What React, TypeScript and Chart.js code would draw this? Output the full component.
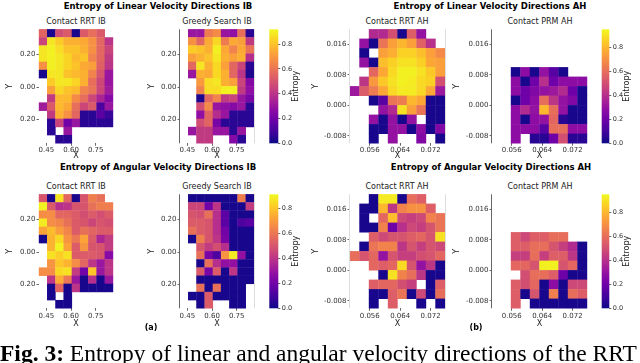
import React, { useEffect, useRef } from 'react';
import { Chart, registerables } from 'chart.js';

Chart.register(...registerables);
Chart.defaults.font.family = "'DejaVu Sans', sans-serif";

const _ = null;

// ---------- axes (data units) ----------
// IB panels: 14 rows x 9 columns (rows listed top to bottom)
const IB_X_START = 0.405;
const IB_X_STEP = 0.05;
const IB_Y_START = 0.355;
const IB_Y_STEP = 0.05;
const ibXTicks = [0.45, 0.6, 0.75];
const ibXLabels = ['0.45', '0.60', '0.75'];
const ibYTicks = [0.2, 0.0, -0.2];
const ibYLabels = ['0.20', '0.00', '0.20'];

// AH panels: 12 rows x 10 columns
const AH_X_START = 0.0508;
const AH_X_STEP = 0.0025;
const AH_Y_START = 0.02;
const AH_Y_STEP = 0.0025;
const ahXTicks = [0.056, 0.064, 0.072];
const ahXLabels = ['0.056', '0.064', '0.072'];
const ahYTicks = [0.016, 0.008, 0.0, -0.008];
const ahYLabels = ['0.016', '0.008', '0.000', '-0.008'];

const entropyTicks = [0, 0.2, 0.4, 0.6, 0.8];
const entropyLabels = ['0.0', '0.2', '0.4', '0.6', '0.8'];
const linearIBMax = 0.92;
const angularIBMax = 0.91;
const linearAHMax = 0.95;
const angularAHMax = 0.95;

// ---------- entropy grids ----------
const linearIB_ContactRRT: (number | null)[][] = [
  [0.55, 0.02, 0.48, 0.52, 0.02, 0.52, 0.58, 0.52, _],
  [0.45, 0.88, 0.82, 0.76, 0.76, 0.74, 0.68, 0.56, 0.4],
  [0.88, 0.9, 0.86, 0.8, 0.8, 0.76, 0.68, 0.56, 0.45],
  [0.88, 0.9, 0.88, 0.84, 0.78, 0.8, 0.64, 0.56, 0.42],
  [0.68, 0.9, 0.88, 0.84, 0.8, 0.74, 0.72, 0.54, 0.4],
  [0.02, 0.88, 0.88, 0.8, 0.78, 0.76, 0.64, 0.5, 0.3],
  [_, 0.82, 0.88, 0.88, 0.84, 0.76, 0.58, 0.46, 0.3],
  [_, 0.72, 0.85, 0.8, 0.78, 0.64, 0.6, 0.46, 0.32],
  [_, 0.42, 0.78, 0.78, 0.66, 0.58, 0.46, 0.35, 0.25],
  [0.32, 0.52, 0.78, 0.74, 0.58, 0.46, 0.52, 0.12, 0.3],
  [_, 0.42, 0.76, 0.68, 0.56, 0.05, 0.05, 0.15, 0.08],
  [_, 0.05, 0.45, 0.2, 0.3, 0.05, 0.05, 0.05, 0.05],
  [_, 0.05, _, 0.3, _, _, _, _, _],
  [_, _, 0.05, 0.05, _, _, _, _, _],
];

const linearIB_GreedySearch: (number | null)[][] = [
  [_, 0.3, 0.3, 0.62, 0.66, 0.3, 0.28, 0.58, 0.05],
  [_, 0.68, 0.56, 0.74, 0.85, 0.62, 0.74, 0.72, 0.42],
  [_, 0.82, 0.8, 0.76, 0.9, 0.74, 0.64, 0.74, 0.6],
  [_, 0.72, 0.76, 0.8, 0.88, 0.76, 0.72, 0.76, 0.38],
  [_, 0.56, 0.88, 0.76, 0.85, 0.72, 0.56, 0.45, 0.05],
  [_, 0.3, 0.76, 0.74, 0.85, 0.76, 0.56, 0.4, 0.03],
  [_, _, 0.7, 0.86, 0.88, 0.76, 0.72, 0.45, 0.25],
  [_, _, 0.64, 0.86, 0.86, 0.9, 0.9, 0.42, 0.28],
  [_, _, 0.03, 0.56, 0.64, 0.42, 0.45, 0.3, 0.22],
  [_, _, 0.48, 0.66, 0.3, 0.28, 0.25, 0.3, 0.05],
  [_, _, 0.28, 0.55, 0.38, 0.3, 0.05, 0.05, 0.05],
  [_, _, 0.48, 0.55, 0.22, 0.05, 0.05, 0.05, 0.05],
  [_, 0.3, 0.42, 0.42, 0.3, 0.3, 0.05, 0.3, _],
  [_, _, 0.42, 0.42, _, _, 0.25, 0.05, _],
];

const angularIB_ContactRRT: (number | null)[][] = [
  [0.5, 0.02, 0.86, 0.55, 0.02, 0.5, 0.62, 0.58, _],
  [0.9, 0.52, 0.38, 0.4, 0.5, 0.5, 0.58, 0.62, 0.62],
  [0.66, 0.66, 0.55, 0.55, 0.52, 0.48, 0.52, 0.48, 0.52],
  [0.88, 0.66, 0.64, 0.58, 0.52, 0.5, 0.45, 0.5, 0.48],
  [0.72, 0.78, 0.7, 0.64, 0.52, 0.58, 0.55, 0.52, 0.52],
  [0.02, 0.76, 0.84, 0.68, 0.6, 0.72, 0.52, 0.35, 0.42],
  [_, 0.76, 0.9, 0.72, 0.52, 0.68, 0.5, 0.5, 0.42],
  [_, 0.86, 0.82, 0.86, 0.52, 0.52, 0.52, 0.5, 0.25],
  [_, 0.68, 0.8, 0.76, 0.66, 0.55, 0.4, 0.3, 0.4],
  [0.66, 0.66, 0.84, 0.86, 0.42, 0.2, 0.8, 0.3, 0.4],
  [_, 0.4, 0.74, 0.6, 0.3, 0.02, 0.38, 0.02, 0.3],
  [_, 0.02, 0.55, 0.02, 0.4, 0.02, 0.02, 0.02, 0.02],
  [_, 0.02, _, 0.02, _, _, _, _, _],
  [_, _, 0.02, 0.02, _, _, _, _, _],
];

const angularIB_GreedySearch: (number | null)[][] = [
  [_, 0.02, 0.02, 0.02, 0.02, 0.02, 0.02, 0.62, 0.02],
  [_, 0.45, 0.45, 0.2, 0.4, 0.02, 0.02, 0.02, 0.42],
  [_, 0.5, 0.48, 0.58, 0.38, 0.15, 0.02, 0.02, 0.02],
  [_, 0.52, 0.52, 0.5, 0.38, 0.15, 0.02, 0.12, 0.15],
  [_, 0.58, 0.52, 0.5, 0.38, 0.2, 0.02, 0.02, 0.02],
  [_, 0.02, 0.62, 0.5, 0.4, 0.22, 0.02, 0.02, 0.02],
  [_, _, 0.5, 0.42, 0.48, 0.38, 0.02, 0.02, 0.02],
  [_, _, 0.58, 0.22, 0.12, 0.68, 0.88, 0.28, 0.02],
  [_, _, 0.02, 0.58, 0.38, 0.28, 0.28, 0.02, 0.02],
  [_, _, 0.52, 0.22, 0.52, 0.02, 0.4, 0.02, 0.02],
  [_, _, 0.02, 0.02, 0.02, 0.02, 0.02, 0.02, 0.02],
  [_, _, 0.58, 0.02, 0.58, 0.02, 0.02, 0.02, _],
  [_, 0.02, 0.02, 0.52, 0.02, 0.02, 0.02, 0.02, _],
  [_, _, 0.02, 0.52, _, _, 0.02, 0.02, _],
];

const linearAH_ContactRRT: (number | null)[][] = [
  [_, _, 0.38, 0.38, 0.5, 0.02, 0.55, 0.3, _, _],
  [_, 0.3, 0.02, 0.62, 0.74, 0.8, 0.74, 0.56, 0.4, _],
  [_, 0.02, _, 0.74, 0.78, 0.86, 0.86, 0.82, 0.74, 0.68],
  [_, 0.3, 0.02, 0.82, 0.86, 0.9, 0.9, 0.86, 0.76, 0.74],
  [_, _, 0.58, 0.76, 0.88, 0.93, 0.93, 0.9, 0.84, 0.74],
  [_, 0.42, 0.72, 0.84, 0.9, 0.93, 0.92, 0.88, 0.86, 0.5],
  [0.32, 0.54, 0.64, 0.76, 0.88, 0.92, 0.92, 0.88, 0.76, 0.32],
  [_, _, 0.02, 0.15, 0.62, 0.64, 0.8, 0.76, 0.02, 0.02],
  [_, _, _, 0.3, 0.38, 0.9, 0.74, 0.62, 0.02, 0.02],
  [_, _, 0.3, 0.02, 0.3, 0.02, 0.3, _, 0.02, 0.02],
  [_, _, 0.02, 0.02, 0.3, 0.3, 0.02, 0.28, 0.02, 0.25],
  [_, _, 0.02, _, 0.3, _, _, 0.25, _, 0.02],
];

const linearAH_ContactPRM: (number | null)[][] = [
  [_, _, _, _, _, _, _, _, _, _],
  [_, _, _, _, _, _, _, _, _, _],
  [_, _, _, _, _, _, _, _, _, _],
  [_, _, _, _, _, _, _, _, _, _],
  [_, _, 0.02, 0.28, 0.02, 0.3, 0.15, 0.02, _, _],
  [_, _, 0.28, 0.02, 0.2, 0.4, 0.2, 0.28, 0.28, 0.28],
  [_, _, 0.28, 0.2, 0.25, 0.3, 0.32, 0.38, 0.2, 0.02],
  [_, _, 0.02, 0.2, 0.28, 0.6, 0.42, 0.3, 0.25, 0.02],
  [_, _, 0.28, 0.38, 0.3, 0.8, 0.6, 0.3, 0.02, 0.02],
  [_, _, 0.28, 0.02, 0.28, 0.3, 0.58, 0.05, 0.02, 0.02],
  [_, _, 0.28, 0.28, 0.28, 0.15, 0.6, 0.6, 0.28, 0.28],
  [_, _, 0.28, _, 0.05, 0.05, 0.2, 0.5, 0.05, 0.05],
];

const angularAH_ContactRRT: (number | null)[][] = [
  [_, _, 0.02, 0.92, 0.92, 0.02, 0.6, 0.55, _, _],
  [_, 0.02, 0.02, 0.8, 0.42, 0.66, 0.7, 0.7, 0.55, _],
  [_, 0.02, _, 0.58, 0.82, 0.48, 0.45, 0.48, 0.66, 0.62],
  [_, 0.02, 0.02, 0.66, 0.2, 0.4, 0.48, 0.45, 0.52, 0.62],
  [_, _, 0.55, 0.48, 0.52, 0.52, 0.55, 0.58, 0.52, 0.9],
  [_, 0.02, 0.62, 0.66, 0.66, 0.42, 0.52, 0.45, 0.52, 0.48],
  [0.6, 0.52, 0.58, 0.3, 0.52, 0.45, 0.45, 0.5, 0.52, 0.58],
  [_, _, 0.58, 0.55, 0.58, 0.88, 0.52, 0.3, 0.42, 0.02],
  [_, _, _, 0.02, 0.9, 0.66, 0.6, 0.42, 0.02, 0.02],
  [_, _, 0.55, 0.58, 0.58, 0.5, 0.45, _, 0.02, 0.55],
  [_, _, 0.02, 0.02, 0.55, 0.62, 0.02, 0.48, 0.02, 0.6],
  [_, _, 0.02, _, 0.55, _, _, 0.02, _, 0.02],
];

const angularAH_ContactPRM: (number | null)[][] = [
  [_, _, _, _, _, _, _, _, _, _],
  [_, _, _, _, _, _, _, _, _, _],
  [_, _, _, _, _, _, _, _, _, _],
  [_, _, _, _, _, _, _, _, _, _],
  [_, _, 0.55, 0.48, 0.55, 0.55, 0.6, 0.6, _, _],
  [_, _, 0.55, 0.55, 0.6, 0.6, 0.52, 0.45, 0.38, 0.02],
  [_, _, 0.45, 0.45, 0.6, 0.45, 0.55, 0.55, 0.42, 0.02],
  [_, _, 0.58, 0.58, 0.52, 0.93, 0.93, 0.52, 0.58, 0.02],
  [_, _, _, 0.5, 0.6, 0.6, 0.55, 0.2, 0.02, 0.02],
  [_, _, 0.55, 0.5, 0.58, 0.02, 0.28, 0.02, 0.48, 0.48],
  [_, _, 0.55, 0.02, 0.52, 0.02, 0.65, 0.02, 0.6, 0.55],
  [_, _, 0.55, _, 0.02, 0.02, 0.02, 0.02, 0.02, 0.02],
];

// ---------- colormap (plasma) ----------
const plasmaStops = [
  '#0d0887', '#41049d', '#6a00a8', '#8f0da4', '#b12a90', '#cc4778',
  '#e16462', '#f2844b', '#fca636', '#fcce25', '#f0f921',
];
function hexRgb(h: string) {
  return [parseInt(h.slice(1, 3), 16), parseInt(h.slice(3, 5), 16), parseInt(h.slice(5, 7), 16)];
}
function plasma(t: number) {
  const c = Math.max(0, Math.min(1, t));
  const f = c * (plasmaStops.length - 1);
  const i = Math.min(Math.floor(f), plasmaStops.length - 2);
  const u = f - i;
  const a = hexRgb(plasmaStops[i]);
  const b = hexRgb(plasmaStops[i + 1]);
  return `rgb(${Math.round(a[0] + (b[0] - a[0]) * u)},${Math.round(a[1] + (b[1] - a[1]) * u)},${Math.round(a[2] + (b[2] - a[2]) * u)})`;
}

type Geo = {
  areaLeft: number; areaTop: number; areaW: number; areaH: number;
  yTitleX: number; xTitleY: number; xTickPad: number; yTickPad: number; tickLen: number;
  spineL?: string; spineR?: string;
};

type HeatProps = {
  grid: (number | null)[][];
  xStart: number; xStep: number; yStart: number; yStep: number;
  xTicks: number[]; xLabels: string[]; yTicks: number[]; yLabels: string[];
  vmax: number; geo: Geo;
};

function Heat(p: HeatProps) {
  const ref = useRef<HTMLCanvasElement>(null);
  const g = p.geo;
  const left = Math.floor(g.yTitleX - 6);
  const top = Math.floor(g.areaTop - 6);
  const right = Math.ceil(g.areaLeft + g.areaW + 6);
  const bottom = Math.ceil(g.xTitleY + 6);
  const W = right - left;
  const H = bottom - top;
  useEffect(() => {
    const nRows = p.grid.length;
    const nCols = p.grid[0].length;
    const pts: { x: number; y: number; v: number }[] = [];
    p.grid.forEach((row, r) =>
      row.forEach((v, c) => {
        if (v !== null) pts.push({ x: p.xStart + (c + 0.5) * p.xStep, y: p.yStart - (r + 0.5) * p.yStep, v });
      })
    );
    const cellPlugin = {
      id: 'heatCells',
      beforeDatasetsDraw(chart: any) {
        const { ctx, chartArea: a, scales } = chart;
        const xs = scales.x;
        const ys = scales.y;
        ctx.save();
        for (const d of chart.data.datasets[0].data as any[]) {
          const l = xs.getPixelForValue(d.x - p.xStep / 2);
          const rr = xs.getPixelForValue(d.x + p.xStep / 2);
          const t = ys.getPixelForValue(d.y + p.yStep / 2);
          const b = ys.getPixelForValue(d.y - p.yStep / 2);
          ctx.fillStyle = plasma(d.v / p.vmax);
          ctx.fillRect(l - 0.2, t - 0.2, rr - l + 0.4, b - t + 0.4);
        }
        ctx.lineWidth = 1;
        if (g.spineL) {
          ctx.strokeStyle = g.spineL;
          ctx.beginPath();
          ctx.moveTo(Math.round(a.left) - 0.5, a.top);
          ctx.lineTo(Math.round(a.left) - 0.5, a.bottom);
          ctx.stroke();
        }
        if (g.spineR) {
          ctx.strokeStyle = g.spineR;
          ctx.beginPath();
          ctx.moveTo(Math.round(a.right) + 0.5, a.top);
          ctx.lineTo(Math.round(a.right) + 0.5, a.bottom);
          ctx.stroke();
        }
        ctx.restore();
      },
    };
    const chart = new Chart(ref.current as HTMLCanvasElement, {
      type: 'scatter',
      data: { datasets: [{ data: pts as any, pointRadius: 0, pointHoverRadius: 0 }] },
      options: {
        responsive: false,
        animation: false,
        events: [],
        layout: {
          padding: { left: 0, top: g.areaTop - top, right: right - (g.areaLeft + g.areaW), bottom: 0 },
        },
        plugins: { legend: { display: false }, tooltip: { enabled: false } },
        scales: {
          x: {
            type: 'linear',
            position: 'bottom',
            bounds: 'data',
            min: p.xStart,
            max: p.xStart + nCols * p.xStep,
            afterBuildTicks: (s: any) => {
              s.ticks = p.xTicks.map((value) => ({ value }));
            },
            afterFit: (s: any) => {
              s.height = bottom - (g.areaTop + g.areaH);
            },
            ticks: {
              autoSkip: false,
              maxRotation: 0,
              padding: g.xTickPad,
              color: '#333',
              font: { size: 7, lineHeight: 1 },
              callback: (_v: any, i: number) => p.xLabels[i],
            },
            grid: { drawOnChartArea: false, drawTicks: true, tickLength: g.tickLen, color: '#444', lineWidth: 0.8 },
            border: { display: false },
            title: {
              display: true,
              text: 'X',
              color: '#222',
              font: { size: 8, lineHeight: 1.2 },
              padding: { top: 0, bottom: bottom - g.xTitleY - 4.8 },
            },
          },
          y: {
            type: 'linear',
            position: 'left',
            bounds: 'data',
            min: p.yStart - nRows * p.yStep,
            max: p.yStart,
            afterBuildTicks: (s: any) => {
              s.ticks = p.yTicks.map((value) => ({ value }));
            },
            afterFit: (s: any) => {
              s.width = g.areaLeft - left;
            },
            ticks: {
              autoSkip: false,
              padding: g.yTickPad,
              color: '#333',
              font: { size: 7, lineHeight: 1 },
              callback: (_v: any, i: number) => p.yLabels[i],
            },
            grid: { drawOnChartArea: false, drawTicks: true, tickLength: g.tickLen, color: '#444', lineWidth: 0.8 },
            border: { display: false },
            title: {
              display: true,
              text: 'Y',
              color: '#222',
              font: { size: 8, lineHeight: 1.2 },
              padding: { top: g.yTitleX - left - 4.8, bottom: 0 },
            },
          },
        },
      } as any,
      plugins: [cellPlugin],
    });
    return () => chart.destroy();
  }, []);
  return (
    <canvas
      ref={ref}
      width={W}
      height={H}
      style={{ position: 'absolute', left, top, width: W, height: H }}
    />
  );
}

type BarGeo = { areaLeft: number; areaTop: number; areaW: number; areaH: number; labelX: number; tickLen: number; tickPad: number };

function ColorBar({ vmax, geo }: { vmax: number; geo: BarGeo }) {
  const ref = useRef<HTMLCanvasElement>(null);
  const left = Math.floor(geo.areaLeft);
  const top = Math.floor(geo.areaTop - 6);
  const right = Math.ceil(geo.labelX + 8);
  const bottom = Math.ceil(geo.areaTop + geo.areaH + 6);
  const W = right - left;
  const H = bottom - top;
  useEffect(() => {
    const barPlugin = {
      id: 'bar',
      beforeDatasetsDraw(chart: any) {
        const { ctx, chartArea: a, scales } = chart;
        const ys = scales.y;
        const y0 = ys.getPixelForValue(0);
        const y1 = ys.getPixelForValue(vmax);
        const grad = ctx.createLinearGradient(0, y0, 0, y1);
        plasmaStops.forEach((c, i) => grad.addColorStop(i / (plasmaStops.length - 1), c));
        ctx.save();
        ctx.fillStyle = grad;
        ctx.fillRect(a.left, a.top, a.right - a.left, a.bottom - a.top);
        ctx.restore();
      },
      afterDraw(chart: any) {
        const { ctx, chartArea: a } = chart;
        ctx.save();
        ctx.translate(geo.labelX - left, (a.top + a.bottom) / 2);
        ctx.rotate(-Math.PI / 2);
        ctx.textAlign = 'center';
        ctx.textBaseline = 'middle';
        ctx.fillStyle = '#222';
        ctx.font = "8px 'DejaVu Sans'";
        ctx.fillText('Entropy', 0, 0);
        ctx.restore();
      },
    };
    const chart = new Chart(ref.current as HTMLCanvasElement, {
      type: 'scatter',
      data: { datasets: [{ data: [], pointRadius: 0 }] },
      options: {
        responsive: false,
        animation: false,
        events: [],
        layout: {
          padding: { left: geo.areaLeft - left, top: geo.areaTop - top, right: 0, bottom: bottom - (geo.areaTop + geo.areaH) },
        },
        plugins: { legend: { display: false }, tooltip: { enabled: false } },
        scales: {
          x: { display: false, min: 0, max: 1 },
          y: {
            type: 'linear',
            position: 'right',
            bounds: 'data',
            min: 0,
            max: vmax,
            afterBuildTicks: (s: any) => {
              s.ticks = entropyTicks.map((value) => ({ value }));
            },
            afterFit: (s: any) => {
              s.width = right - (geo.areaLeft + geo.areaW);
            },
            ticks: {
              autoSkip: false,
              padding: geo.tickPad,
              color: '#333',
              font: { size: 6.5, lineHeight: 1 },
              callback: (_v: any, i: number) => entropyLabels[i],
            },
            grid: { drawOnChartArea: false, drawTicks: true, tickLength: geo.tickLen, color: '#444', lineWidth: 0.8 },
            border: { display: false },
          },
        },
      } as any,
      plugins: [barPlugin],
    });
    return () => chart.destroy();
  }, []);
  return (
    <canvas ref={ref} width={W} height={H} style={{ position: 'absolute', left, top, width: W, height: H }} />
  );
}

function Label({ x, y, text, size, bold }: { x: number; y: number; text: string; size: number; bold?: boolean }) {
  return (
    <div
      style={{
        position: 'absolute',
        left: x,
        top: y,
        transform: 'translate(-50%, -50%)',
        fontFamily: "'DejaVu Sans', sans-serif",
        fontSize: size,
        fontWeight: bold ? 'bold' : 'normal',
        lineHeight: 1,
        whiteSpace: 'nowrap',
        color: bold ? '#000' : '#222',
      }}
    >
      {text}
    </div>
  );
}

const TOP = 29.3;
const BOT = 194.3;

function geoFor(areaLeft: number, areaTop: number, areaW: number, yTitleX: number, spineL?: string, spineR?: string): Geo {
  const isTop = areaTop < 100;
  return {
    areaLeft, areaTop, areaW, areaH: 114, yTitleX,
    xTitleY: isTop ? 156 : 324,
    xTickPad: isTop ? 0.5 : 1.5,
    yTickPad: 1,
    tickLen: 2.5,
    spineL, spineR,
  };
}

export default function App() {
  useEffect(() => {
    document.body.style.margin = '0';
  }, []);
  return (
    <div style={{ position: 'fixed', left: 0, top: 0, width: 640, height: 363, background: '#fff', overflow: 'hidden' }}>
      <Label x={158} y={5.5} text="Entropy of Linear Velocity Directions IB" size={8.5} bold />
      <Label x={490} y={5.5} text="Entropy of Linear Velocity Directions AH" size={8.5} bold />
      <Label x={158} y={167} text="Entropy of Angular Velocity Directions IB" size={8.5} bold />
      <Label x={491} y={167} text="Entropy of Angular Velocity Directions AH" size={8.5} bold />

      <Label x={76} y={22} text="Contact RRT IB" size={8} />
      <Label x={217} y={22} text="Greedy Search IB" size={8} />
      <Label x={397} y={22} text="Contact RRT AH" size={8} />
      <Label x={540} y={22} text="Contact PRM AH" size={8} />
      <Label x={76} y={187} text="Contact RRT IB" size={8} />
      <Label x={217} y={187} text="Greedy Search IB" size={8} />
      <Label x={397} y={187} text="Contact RRT AH" size={8} />
      <Label x={540} y={187} text="Contact PRM AH" size={8} />

      <Heat grid={linearIB_ContactRRT} xStart={IB_X_START} xStep={IB_X_STEP} yStart={IB_Y_START} yStep={IB_Y_STEP}
        xTicks={ibXTicks} xLabels={ibXLabels} yTicks={ibYTicks} yLabels={ibYLabels} vmax={linearIBMax}
        geo={geoFor(39, TOP, 74, 10)} />
      <Heat grid={linearIB_GreedySearch} xStart={IB_X_START} xStep={IB_X_STEP} yStart={IB_Y_START} yStep={IB_Y_STEP}
        xTicks={ibXTicks} xLabels={ibXLabels} yTicks={ibYTicks} yLabels={ibYLabels} vmax={linearIBMax}
        geo={geoFor(180, TOP, 74, 152, '#666', '#ddd')} />
      <ColorBar vmax={linearIBMax} geo={{ areaLeft: 269.3, areaTop: TOP, areaW: 9, areaH: 114, labelX: 296, tickLen: 2, tickPad: 1.5 }} />

      <Heat grid={linearAH_ContactRRT} xStart={AH_X_START} xStep={AH_X_STEP} yStart={AH_Y_START} yStep={AH_Y_STEP}
        xTicks={ahXTicks} xLabels={ahXLabels} yTicks={ahYTicks} yLabels={ahYLabels} vmax={linearAHMax}
        geo={geoFor(350, TOP, 95, 316, '#ddd', '#ddd')} />
      <Heat grid={linearAH_ContactPRM} xStart={AH_X_START} xStep={AH_X_STEP} yStart={AH_Y_START} yStep={AH_Y_STEP}
        xTicks={ahXTicks} xLabels={ahXLabels} yTicks={ahYTicks} yLabels={ahYLabels} vmax={linearAHMax}
        geo={geoFor(492, TOP, 95, 457, '#666')} />
      <ColorBar vmax={linearAHMax} geo={{ areaLeft: 601.7, areaTop: TOP, areaW: 7.6, areaH: 114, labelX: 627, tickLen: 2, tickPad: 1.5 }} />

      <Heat grid={angularIB_ContactRRT} xStart={IB_X_START} xStep={IB_X_STEP} yStart={IB_Y_START} yStep={IB_Y_STEP}
        xTicks={ibXTicks} xLabels={ibXLabels} yTicks={ibYTicks} yLabels={ibYLabels} vmax={angularIBMax}
        geo={geoFor(39, BOT, 74, 10)} />
      <Heat grid={angularIB_GreedySearch} xStart={IB_X_START} xStep={IB_X_STEP} yStart={IB_Y_START} yStep={IB_Y_STEP}
        xTicks={ibXTicks} xLabels={ibXLabels} yTicks={ibYTicks} yLabels={ibYLabels} vmax={angularIBMax}
        geo={geoFor(180, BOT, 74, 152, '#666', '#ddd')} />
      <ColorBar vmax={angularIBMax} geo={{ areaLeft: 269.3, areaTop: BOT, areaW: 9, areaH: 114, labelX: 296, tickLen: 2, tickPad: 1.5 }} />

      <Heat grid={angularAH_ContactRRT} xStart={AH_X_START} xStep={AH_X_STEP} yStart={AH_Y_START} yStep={AH_Y_STEP}
        xTicks={ahXTicks} xLabels={ahXLabels} yTicks={ahYTicks} yLabels={ahYLabels} vmax={angularAHMax}
        geo={geoFor(350, BOT, 95, 316, '#ddd', '#ddd')} />
      <Heat grid={angularAH_ContactPRM} xStart={AH_X_START} xStep={AH_X_STEP} yStart={AH_Y_START} yStep={AH_Y_STEP}
        xTicks={ahXTicks} xLabels={ahXLabels} yTicks={ahYTicks} yLabels={ahYLabels} vmax={angularAHMax}
        geo={geoFor(492, BOT, 95, 457, '#666')} />
      <ColorBar vmax={angularAHMax} geo={{ areaLeft: 601.7, areaTop: BOT, areaW: 7.6, areaH: 114, labelX: 627, tickLen: 2, tickPad: 1.5 }} />

      <Label x={151} y={328} text="(a)" size={8} bold />
      <Label x={476} y={328} text="(b)" size={8} bold />

      <div
        style={{
          position: 'absolute',
          left: 0,
          top: 342,
          fontFamily: "'Liberation Serif', serif",
          fontSize: 23.5,
          lineHeight: '23.5px',
          whiteSpace: 'nowrap',
          color: '#000',
        }}
      >
        <b>Fig. 3:</b> Entropy of linear and angular velocity directions of the RRT
      </div>
    </div>
  );
}
